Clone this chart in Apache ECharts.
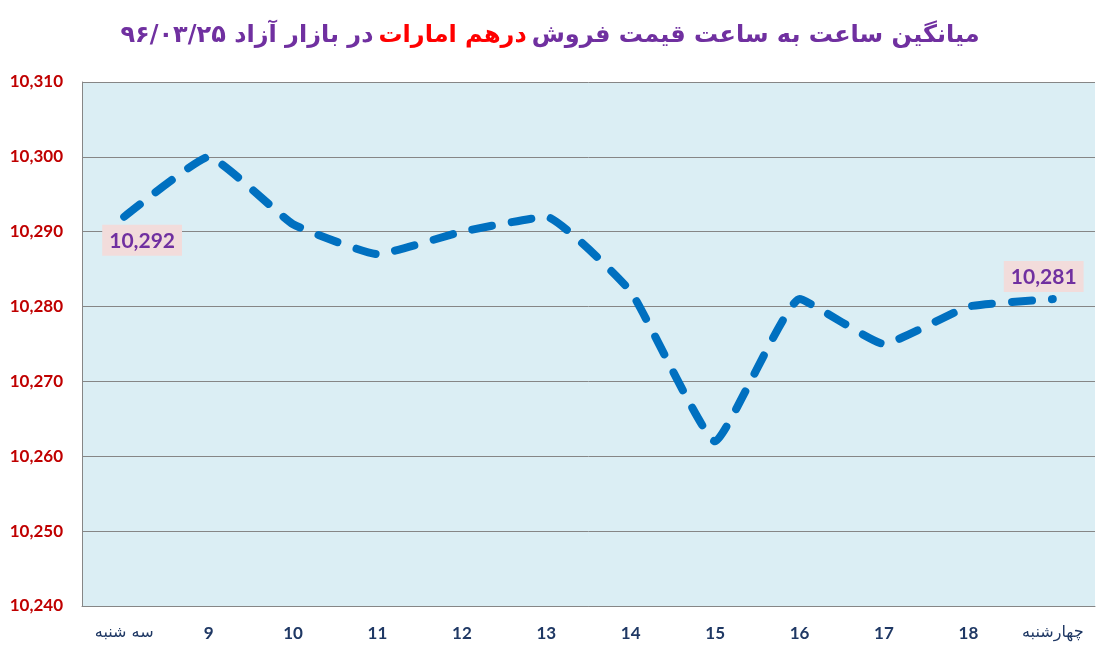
<!DOCTYPE html>
<html>
<head>
<meta charset="utf-8">
<script src="https://cdn.jsdelivr.net/npm/echarts@6/dist/echarts.min.js"></script>
<style>
html,body{margin:0;padding:0;background:#fff;}
#chart{width:1100px;height:653px;}
</style>
</head>
<body>
<div id="chart"></div>
<script>
var categories = ['سه شنبه', '9', '10', '11', '12', '13', '14', '15', '16', '17', '18', 'چهارشنبه'];
var prices = [10292, 10300, 10291, 10287, 10290, 10292, 10282, 10262, 10281, 10275, 10280, 10281];
var titleLeftPart = 'در بازار آزاد ۹۶/۰۳/۲۵';
var titleRedPart = 'درهم امارات';
var titleRightPart = 'میانگین ساعت به ساعت قیمت فروش';

var labelStyle = {
  show: true,
  color: '#7030a0',
  fontFamily: 'Lato',
  fontWeight: 'bold',
  fontSize: 21,
  backgroundColor: '#f2dcdb',
  padding: [6, 7, 4, 7],
  formatter: function (p) { return Number(p.value).toLocaleString('en-US'); }
};

var seriesData = prices.map(function (v, i) {
  var d = { value: v };
  if (i === 0) {
    d.label = Object.assign({}, labelStyle, { position: [-21, 9] });
  } else if (i === prices.length - 1) {
    d.label = Object.assign({}, labelStyle, { position: [-48, -37] });
  }
  return d;
});

var chart = echarts.init(document.getElementById('chart'));
chart.setOption({
  animation: false,
  backgroundColor: '#ffffff',
  title: {
    text: '{p|' + titleLeftPart + '} {r|' + titleRedPart + '} {p|' + titleRightPart + '}',
    left: 'center',
    top: 19,
    textStyle: {
      rich: {
        p: { color: '#7030a0', fontFamily: 'DejaVu Sans', fontWeight: 'bold', fontSize: 24 },
        r: { color: '#ff0000', fontFamily: 'DejaVu Sans', fontWeight: 'bold', fontSize: 24 }
      }
    }
  },
  grid: {
    left: 82, right: 5, top: 82, bottom: 47,
    show: true,
    backgroundColor: '#dbeef4',
    borderWidth: 0
  },
  xAxis: {
    type: 'category',
    data: categories,
    boundaryGap: true,
    axisLine: { show: true, lineStyle: { color: '#868686', width: 1 } },
    axisTick: { show: false },
    axisLabel: {
      margin: 19,
      color: '#1f3864',
      fontFamily: 'Lato',
      fontWeight: 'bold',
      fontSize: 17,
      interval: 0,
      formatter: function (v) {
        return /^\d+$/.test(v) ? v : '{fa|' + v + '}';
      },
      rich: {
        fa: { color: '#1f3864', fontFamily: 'DejaVu Sans', fontWeight: 'normal', fontSize: 16 }
      }
    }
  },
  yAxis: {
    type: 'value',
    min: 10240,
    max: 10310,
    interval: 10,
    axisLine: { show: true, lineStyle: { color: '#868686', width: 1 } },
    axisTick: { show: false },
    splitLine: { show: true, lineStyle: { color: '#868686', width: 1 } },
    axisLabel: {
      margin: 19,
      color: '#c00000',
      fontFamily: 'Lato',
      fontWeight: 'bold',
      fontSize: 17,
      formatter: function (v) { return v.toLocaleString('en-US'); }
    }
  },
  series: [{
    type: 'line',
    data: seriesData,
    smooth: 0.12,
    symbol: 'circle',
    symbolSize: 2,
    showSymbol: true,
    showAllSymbol: true,
    itemStyle: { color: 'rgba(0,0,0,0)', borderWidth: 0 },
    lineStyle: { color: '#0070c0', width: 8, type: [20, 20], cap: 'round', join: 'round' },
    labelLayout: { hideOverlap: false }
  }]
});
</script>
</body>
</html>
